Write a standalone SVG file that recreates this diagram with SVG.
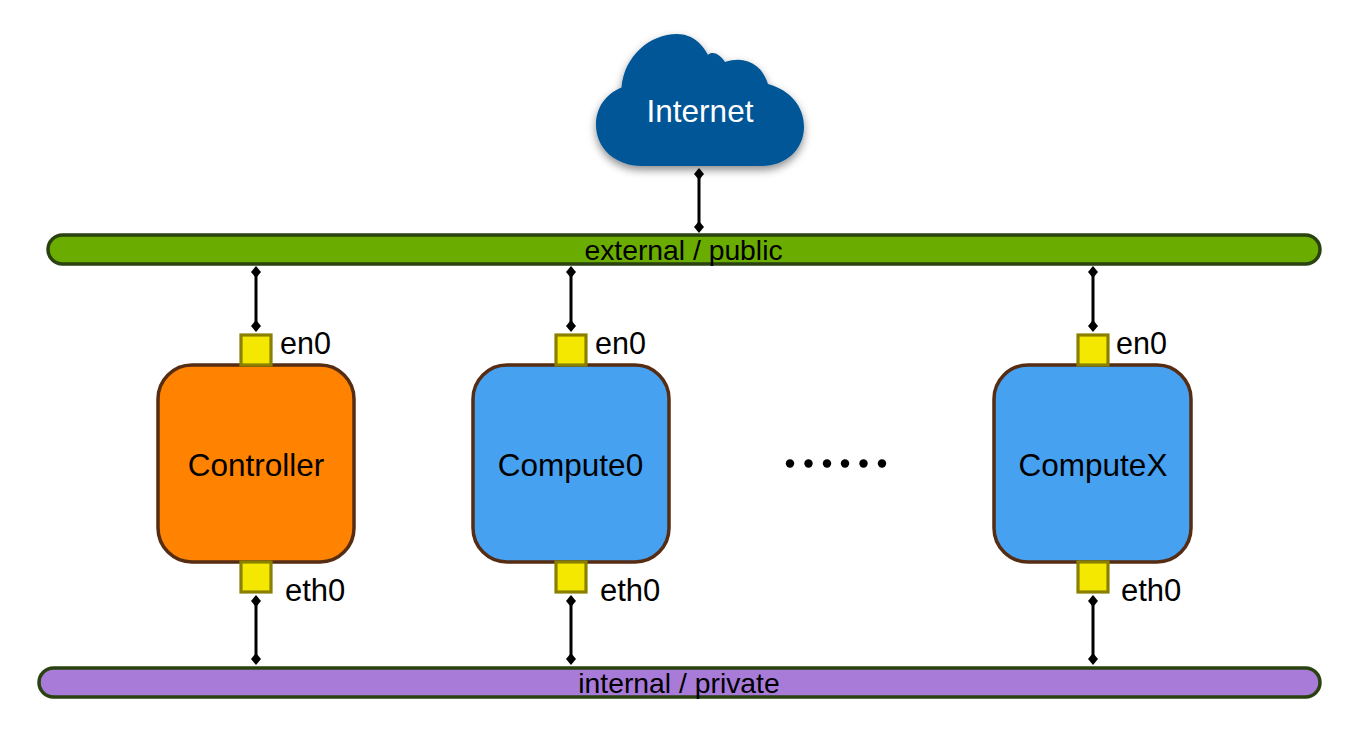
<svg xmlns="http://www.w3.org/2000/svg" width="1357" height="736" viewBox="0 0 1357 736">
<style>
text{font-family:"Liberation Sans",Arial,sans-serif;fill:#000;text-anchor:middle}
.t{font-size:31.500px}.s{font-size:30.500px;text-anchor:start}.e{font-size:31px;text-anchor:start}.b{font-size:28.300px}
.node{stroke:#562c12;stroke-width:3.5}
.port{fill:#f5e800;stroke:#8a8000;stroke-width:3.2}
.bus{stroke:#2a4210;stroke-width:3.5}
.c{stroke:#000;stroke-width:3;fill:none;marker-start:url(#d);marker-end:url(#d)}
</style>
<defs>
<marker id="d" viewBox="-6 -7 12 14" markerUnits="userSpaceOnUse" markerWidth="12" markerHeight="14" orient="auto"><path d="M-6 0L0-5 6 0 0 5z" fill="#000"/></marker>
<filter id="sh" x="-10%" y="-10%" width="120%" height="130%"><feDropShadow dx="0" dy="4" stdDeviation="4" flood-color="#000" flood-opacity=".45"/></filter>
</defs>
<g id="connectors">
<line class="c" x1="699" y1="174" x2="699" y2="227"/>
<line class="c" x1="256" y1="272" x2="256" y2="326"/>
<line class="c" x1="571" y1="272" x2="571" y2="326"/>
<line class="c" x1="1093" y1="272" x2="1093" y2="326"/>
<line class="c" x1="256" y1="601" x2="256" y2="659"/>
<line class="c" x1="571" y1="601" x2="571" y2="659"/>
<line class="c" x1="1093" y1="601" x2="1093" y2="659"/>
</g>
<g id="internet">
<path filter="url(#sh)" fill="#015697" d="M642 166C615 166 596 148 596 125C596 107 606 94 621.500 87.500C624 56 650 34 677 34C693 34 703 45 708 55C712 51 719 53 725 62C745 55 762 64 768 84C790 90 804 106 804 127C804 150 785 166 762 166Z"/>
<text x="700" y="122" class="t" style="fill:#fff">Internet</text>
</g>
<g id="external">
<rect class="bus" x="48" y="235" width="1272" height="29" rx="14.500" fill="#6aad00"/>
<text x="683.500" y="260" class="b">external / public</text>
</g>
<g id="internal">
<rect class="bus" x="39" y="668" width="1281" height="29" rx="14.500" fill="#a87bd8"/>
<text x="679" y="693" class="b">internal / private</text>
</g>
<g id="controller">
<rect class="node" x="158" y="365" width="196" height="197" rx="34" fill="#ff8300"/>
<rect class="port" x="241" y="335" width="30" height="30"/>
<rect class="port" x="241" y="562" width="30" height="30"/>
<text x="256" y="476" class="t">Controller</text>
<text x="280" y="354" class="s">en0</text>
<text x="285" y="601" class="e">eth0</text>
</g>
<g id="compute0">
<rect class="node" x="473" y="365" width="196" height="197" rx="34" fill="#47a1f1"/>
<rect class="port" x="556" y="335" width="30" height="30"/>
<rect class="port" x="556" y="562" width="30" height="30"/>
<text x="570.500" y="476" class="t">Compute0</text>
<text x="595" y="354" class="s">en0</text>
<text x="600" y="601" class="e">eth0</text>
</g>
<g id="computeX">
<rect class="node" x="994" y="365" width="197" height="197" rx="34" fill="#47a1f1"/>
<rect class="port" x="1078" y="335" width="30" height="30"/>
<rect class="port" x="1078" y="562" width="30" height="30"/>
<text x="1093" y="476" class="t">ComputeX</text>
<text x="1116" y="354" class="s">en0</text>
<text x="1121" y="601" class="e">eth0</text>
</g>
<g id="dots" fill="#000">
<circle cx="790" cy="463.500" r="4.200"/><circle cx="808.500" cy="463.500" r="4.200"/><circle cx="827" cy="463.500" r="4.200"/><circle cx="845" cy="463.500" r="4.200"/><circle cx="863.500" cy="463.500" r="4.200"/><circle cx="882" cy="463.500" r="4.200"/>
</g>
</svg>
